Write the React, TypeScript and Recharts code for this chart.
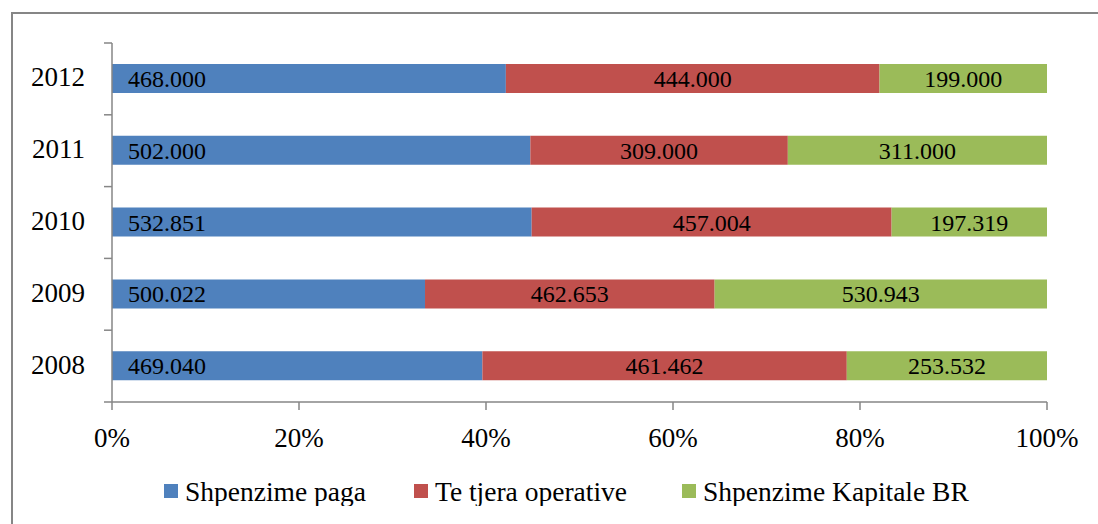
import { Bar, BarChart, LabelList, Legend, XAxis, YAxis } from "recharts";

const years = ["2012", "2011", "2010", "2009", "2008"];
const paga = [468.0, 502.0, 532.851, 500.022, 469.04];
const operative = [444.0, 309.0, 457.004, 462.653, 461.462];
const kapitale = [199.0, 311.0, 197.319, 530.943, 253.532];
const pctTicks = [0, 0.2, 0.4, 0.6, 0.8, 1];

const SERIES = [
  { key: "paga", name: "Shpenzime paga", color: "#4F81BD" },
  { key: "operative", name: "Te tjera operative", color: "#C0504D" },
  { key: "kapitale", name: "Shpenzime Kapitale BR", color: "#9BBB59" },
];

const W = 1090;
const H = 516;
const FONT = "Liberation Serif, serif";
const MARGIN = { top: 35, right: 51, left: 0, bottom: 18 };
const AXIS = "#868686";
const BAND = (394 - MARGIN.top) / years.length;

const data = years.map((y, i) => ({
  year: y,
  paga: paga[i],
  operative: operative[i],
  kapitale: kapitale[i],
}));

const fmt = (v: number) => Number(v).toFixed(3);

function YearTick(props: any) {
  const { x, y, payload, index } = props;
  const ax = x + 19;
  return (
    <g>
      <text
        x={x}
        y={y}
        dy={-1.5}
        textAnchor="end"
        dominantBaseline="central"
        fontSize={27}
        fontFamily={FONT}
        fill="#000"
      >
        {payload.value}
      </text>
      <line x1={ax} x2={ax + 8} y1={y - BAND / 2} y2={y - BAND / 2} stroke={AXIS} strokeWidth={1.5} />
      {index === years.length - 1 && (
        <line x1={ax} x2={ax + 8} y1={y + BAND / 2} y2={y + BAND / 2} stroke={AXIS} strokeWidth={1.5} />
      )}
    </g>
  );
}

function LegendBox() {
  return (
    <svg width={W - MARGIN.right} height={30} style={{ display: "block" }}>
      {SERIES.map((s, i) => {
        const x0 = [156, 406, 674][i];
        return (
          <g key={s.key}>
            <rect x={x0} y={8} width={14} height={14} fill={s.color} />
            <text
              x={x0 + 21}
              y={15}
              dominantBaseline="central"
              fontFamily={FONT}
              fontSize={27.5}
              fill="#000"
            >
              {s.name}
            </text>
          </g>
        );
      })}
    </svg>
  );
}

export default function App() {
  return (
    <div
      style={{
        position: "fixed",
        left: 8,
        top: 8,
        width: W,
        height: H,
        overflow: "hidden",
        fontFamily: FONT,
        background: "#fff",
      }}
    >
      <div style={{ position: "absolute", left: 3, top: 4, width: W, height: 1.5, background: AXIS }} />
      <div style={{ position: "absolute", left: 3, top: 4, width: 1.5, height: H, background: AXIS }} />
      <BarChart
        width={W}
        height={H}
        data={data}
        layout="vertical"
        stackOffset="expand"
        margin={MARGIN}
        barSize={29}
      >
        <XAxis
          type="number"
          domain={[0, 1]}
          ticks={pctTicks}
          tickFormatter={(v) => `${Math.round(v * 100)}%`}
          stroke={AXIS}
          strokeWidth={1.5}
          tickSize={8}
          tickMargin={18}
          tick={{ fill: "#000", fontSize: 27 }}
          height={74}
        />
        <YAxis
          type="category"
          dataKey="year"
          width={104}
          stroke={AXIS}
          strokeWidth={1.5}
          tickLine={false}
          tickSize={8}
          tickMargin={19}
          tick={<YearTick />}
        />
        <Legend verticalAlign="bottom" content={<LegendBox />} />
        {SERIES.map((s, i) => (
          <Bar
            key={s.key}
            dataKey={s.key}
            name={s.name}
            stackId="a"
            fill={s.color}
            isAnimationActive={false}
          >
            <LabelList
              dataKey={s.key}
              position={i === 0 ? "insideLeft" : "center"}
              offset={16}
              formatter={fmt}
              fill="#000"
              fontSize={24}
            />
          </Bar>
        ))}
      </BarChart>
    </div>
  );
}
